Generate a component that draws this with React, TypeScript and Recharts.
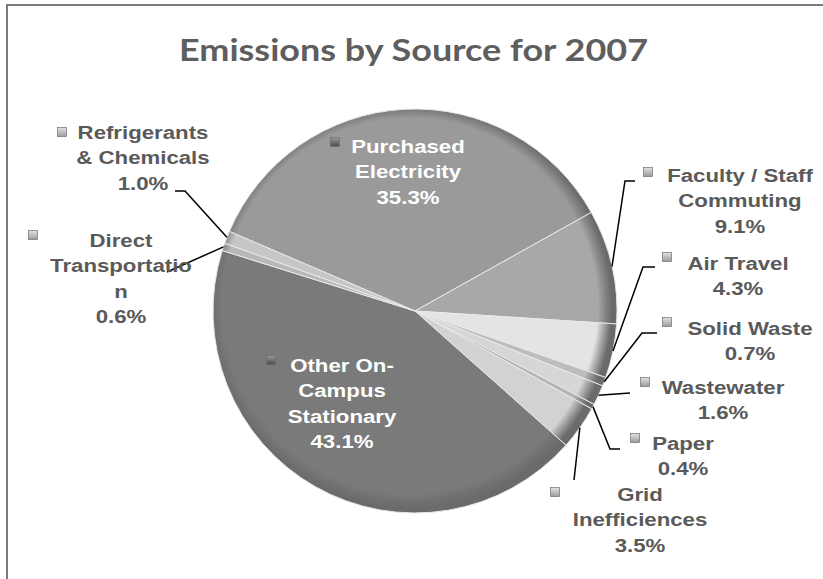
import React from "react";
import { PieChart, Pie, Cell } from "recharts";

// emissions share by source, 2007 (percent, clockwise from the left)
const categories = [
  "Purchased Electricity",
  "Faculty / Staff Commuting",
  "Air Travel",
  "Solid Waste",
  "Wastewater",
  "Paper",
  "Grid Inefficiences",
  "Other On-Campus Stationary",
  "Direct Transportation",
  "Refrigerants & Chemicals",
];
const shares = [35.3, 9.1, 4.3, 0.7, 1.6, 0.4, 3.5, 43.1, 0.6, 1.0];
const labelText = [
  ["Purchased", "Electricity"],
  ["Faculty / Staff", "Commuting"],
  ["Air Travel"],
  ["Solid Waste"],
  ["Wastewater"],
  ["Paper"],
  ["Grid", "Inefficiences"],
  ["Other On-", "Campus", "Stationary"],
  ["Direct", "Transportatio", "n"],
  ["Refrigerants", "& Chemicals"],
];

const sliceColors = [
  "#9a9a9a",
  "#a8a8a8",
  "#e4e4e4",
  "#bdbdbd",
  "#d6d6d6",
  "#b4b4b4",
  "#d2d2d2",
  "#7a7a7a",
  "#b8b8b8",
  "#c6c6c6",
];

// hand-placed label boxes (as in the original sheet)
const labelLayout: Array<{
  x: number;
  y: number;
  mx: number;
  my: number;
  inside?: boolean;
  leader?: Array<[number, number]>;
}> = [
  { x: 408, y: 146, mx: 335, my: 142, inside: true },
  { x: 740, y: 175, mx: 648, my: 172, leader: [[625, 181], [635, 181]] },
  { x: 738, y: 263, mx: 667, my: 257, leader: [[643, 267], [655, 267]] },
  { x: 750, y: 328, mx: 667, my: 322, leader: [[642, 333], [657, 333]] },
  { x: 723, y: 387, mx: 645, my: 382, leader: [[630, 393]] },
  { x: 683, y: 443, mx: 635, my: 438, leader: [[610, 449], [620, 449]] },
  { x: 640, y: 494, mx: 555, my: 492, leader: [[574, 480]] },
  { x: 342, y: 365, mx: 271, my: 360, inside: true },
  { x: 121, y: 240, mx: 33, my: 235, leader: [[167, 272]] },
  { x: 143, y: 132, mx: 62, my: 132, leader: [[185, 191], [175, 191]] },
];

const data = categories.map((name, i) => ({ name, value: shares[i] }));

const RAD = Math.PI / 180;
const LINE_H = 25.5;
const STRETCH = 1.17;

const renderLabel = (props: any) => {
  const idx =
    typeof props.index === "number" ? props.index : categories.indexOf(props.name);
  const lay = labelLayout[idx];
  if (!lay) return null;
  const lines = [...labelText[idx], shares[idx].toFixed(1) + "%"];
  const color = lay.inside ? "#ffffff" : "#5a5a5a";
  const ex = props.cx + props.outerRadius * Math.cos(-props.midAngle * RAD);
  const ey = props.cy + props.outerRadius * Math.sin(-props.midAngle * RAD);
  let path = "";
  if (lay.leader) {
    path = `M${ex},${ey}` + lay.leader.map((p) => ` L${p[0]},${p[1]}`).join("");
  }
  return (
    <g key={`lbl-${idx}`}>
      {path && <path d={path} stroke="#000" strokeWidth={1.5} fill="none" />}
      <rect
        x={lay.mx - 4.5}
        y={lay.my - 4.5}
        width={9}
        height={9}
        fill={`url(#mk-${idx})`}
        stroke="#6e6e6e"
        strokeWidth={0.7}
      />
      {lines.map((ln, i) => (
        <text
          key={i}
          transform={`translate(${lay.x},${lay.y + i * LINE_H}) scale(${STRETCH},1)`}
          textAnchor="middle"
          dominantBaseline="central"
          fill={color}
          fontFamily="'Liberation Sans', Arial, sans-serif"
          fontWeight={700}
          fontSize={19}
        >
          {ln}
        </text>
      ))}
    </g>
  );
};

export default function App() {
  return (
    <div
      style={{
        position: "absolute",
        left: 0,
        top: 0,
        width: 823,
        height: 579,
        background: "#ffffff",
        overflow: "hidden",
      }}
    >
      <style>{`.recharts-pie-sectors { filter: drop-shadow(2px 4px 4px rgba(0,0,0,0.35)); }`}</style>
      <div
        style={{
          position: "absolute",
          left: 6,
          top: 4,
          right: 0,
          bottom: 0,
          borderTop: "2px solid #7a7a7a",
          borderLeft: "2px solid #7a7a7a",
        }}
      />
      <svg
        width={823}
        height={90}
        style={{ position: "absolute", left: 0, top: 0 }}
      >
        <text
          x={179}
          y={61}
          textLength={469}
          lengthAdjust="spacingAndGlyphs"
          fill="#5e5e5e"
          fontFamily="Lato, 'Open Sans', sans-serif"
          fontWeight={700}
          fontSize={31}
        >
          Emissions by Source for 2007
        </text>
      </svg>
      <div style={{ position: "absolute", left: 0, top: 0 }}>
        <PieChart width={823} height={579}>
          <defs>
            {sliceColors.map((c, i) => (
              <radialGradient
                key={`g-${i}`}
                id={`sl-${i}`}
                cx={410}
                cy={306}
                r={202}
                gradientUnits="userSpaceOnUse"
              >
                <stop offset="0%" stopColor={c} />
                <stop offset="80%" stopColor={c} />
                <stop offset="93%" stopColor={c} />
                <stop offset="100%" stopColor="#5a5a5a" stopOpacity={0.9} />
              </radialGradient>
            ))}
            {sliceColors.map((c, i) => (
              <linearGradient key={`m-${i}`} id={`mk-${i}`} x1="0" y1="0" x2="0" y2="1">
                <stop offset="0%" stopColor={i === 0 || i === 7 ? "#9a9a9a" : "#e2e2e2"} />
                <stop offset="100%" stopColor={i === 0 || i === 7 ? "#4a4a4a" : "#9c9c9c"} />
              </linearGradient>
            ))}
          </defs>
          <Pie
            data={data}
            dataKey="value"
            nameKey="name"
            cx={410}
            cy={306}
            outerRadius={202}
            startAngle={156.8}
            endAngle={-203.2}
            stroke="#e8e8e8"
            strokeWidth={1}
            label={renderLabel}
            labelLine={false}
            isAnimationActive={false}
          >
            {data.map((d, i) => (
              <Cell key={d.name} fill={`url(#sl-${i})`} />
            ))}
          </Pie>
        </PieChart>
      </div>
    </div>
  );
}
